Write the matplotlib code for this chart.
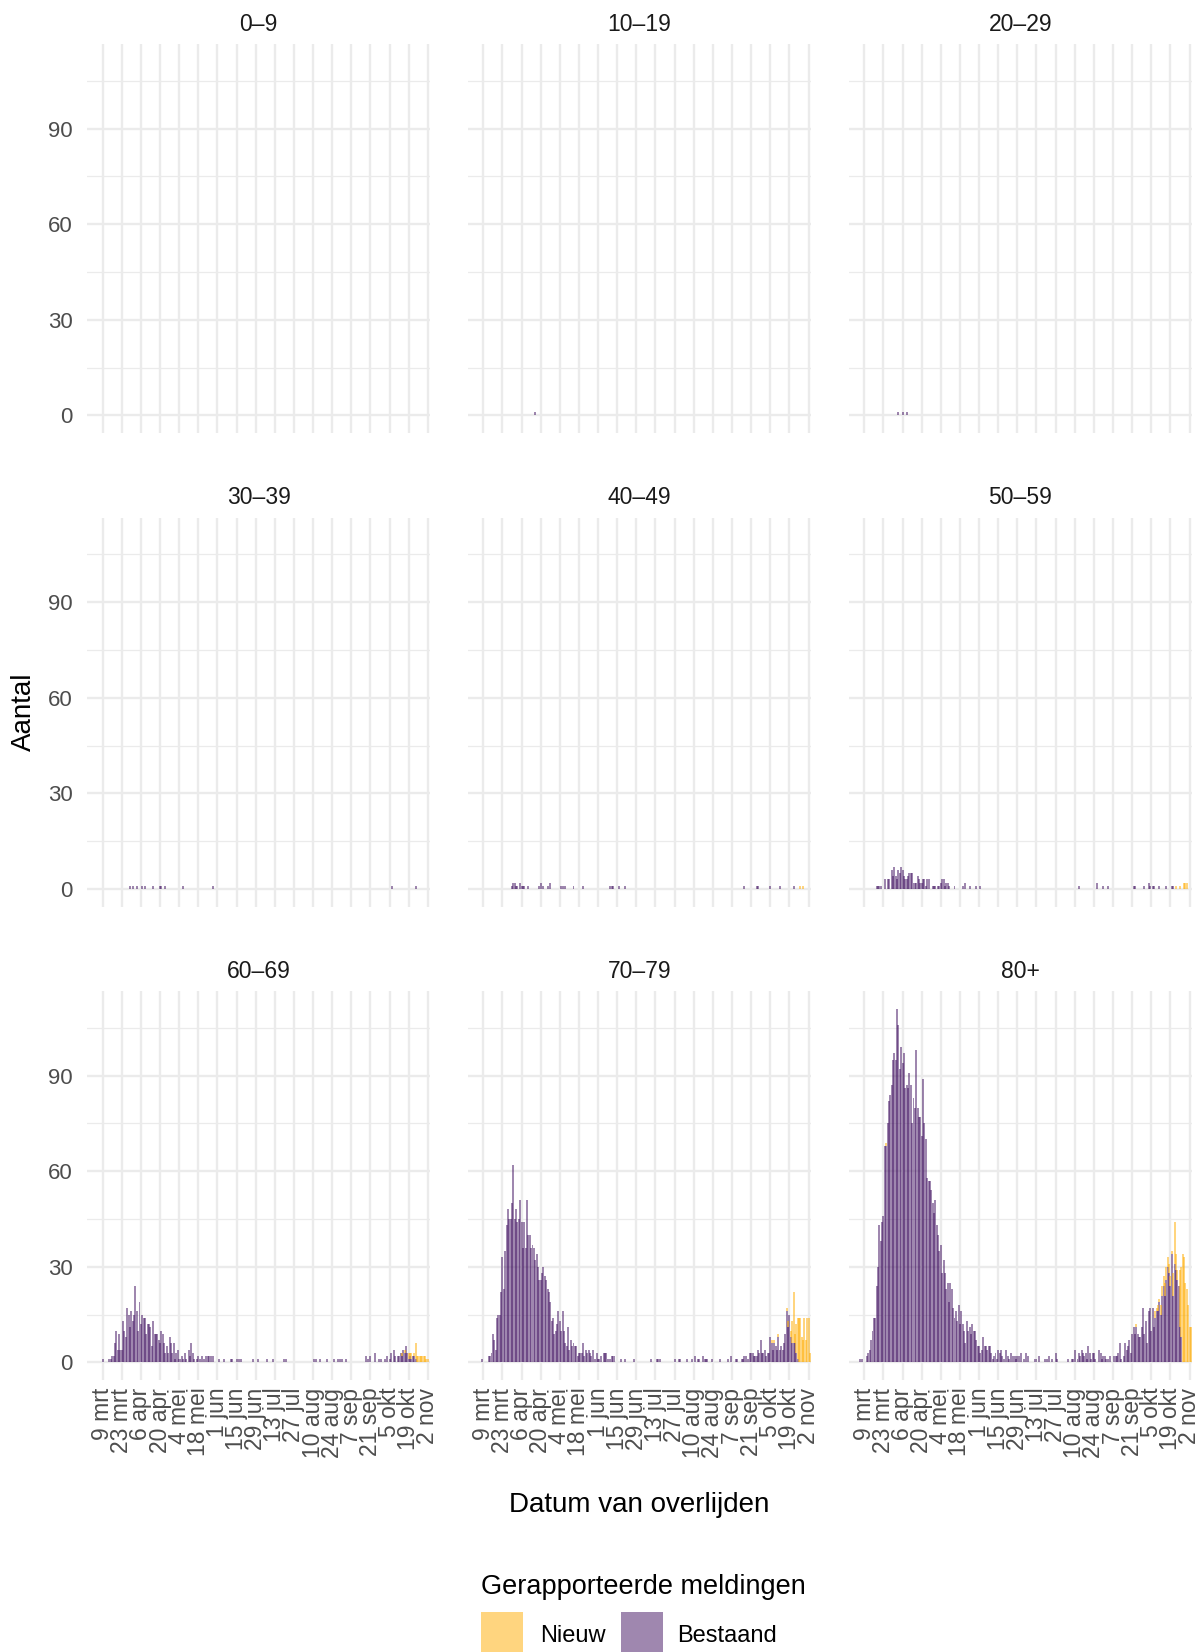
import numpy as np
import pandas as pd
import matplotlib
matplotlib.use("Agg")
import matplotlib.pyplot as plt
import matplotlib.dates as mdates
from matplotlib.patches import Rectangle

plt.rcParams['font.family'] = ['Liberation Sans', 'DejaVu Sans']

# dagen waarop overlijdens zijn gemeld (6 mrt t/m 3 nov 2020)
dagen = pd.date_range("2020-03-06", "2020-11-03", freq="D")

leeftijden = ["0\u20139", "10\u201319", "20\u201329", "30\u201339", "40\u201349",
              "50\u201359", "60\u201369", "70\u201379", "80+"]

tick_datums = ["2020-03-09", "2020-03-23", "2020-04-06", "2020-04-20", "2020-05-04",
               "2020-05-18", "2020-06-01", "2020-06-15", "2020-06-29", "2020-07-13",
               "2020-07-27", "2020-08-10", "2020-08-24", "2020-09-07", "2020-09-21",
               "2020-10-05", "2020-10-19", "2020-11-02"]
tick_labels = ["9 mrt", "23 mrt", "6 apr", "20 apr", "4 mei", "18 mei", "1 jun",
               "15 jun", "29 jun", "13 jul", "27 jul", "10 aug", "24 aug", "7 sep",
               "21 sep", "5 okt", "19 okt", "2 nov"]

# Bestaand: dagwaarden vanaf 6 mrt (eerste 3), daarna per week vanaf maandag 9 mrt
bestaand_80 = [1, 1, 0,
    0, 0, 2, 3, 4, 7, 10,
    14, 14, 24, 30, 43, 38, 44,
    46, 68, 68, 75, 82, 84, 87,
    95, 97, 95, 111, 106, 92, 99,
    94, 97, 86, 87, 86, 91, 87,
    75, 83, 80, 98, 80, 77, 77,
    71, 89, 75, 70, 58, 57, 57,
    54, 50, 47, 51, 43, 40, 35,
    37, 28, 32, 28, 23, 25, 19,
    25, 23, 17, 14, 16, 13, 18,
    12, 16, 12, 10, 6, 13, 10,
    11, 9, 12, 10, 10, 7, 5,
    5, 3, 4, 8, 5, 5, 4,
    5, 5, 3, 1, 2, 3, 1,
    4, 3, 4, 2, 1, 0, 4,
    2, 1, 3, 0, 2, 2, 1,
    2, 2, 0, 3, 0, 1, 3,
    0, 2, 0, 0, 0, 0, 1,
    1, 0, 2, 0, 0, 0, 1,
    0, 1, 2, 0, 1, 0, 0,
    3, 1, 0, 0, 0, 0, 0,
    0, 0, 1, 0, 0, 1, 1,
    4, 0, 1, 3, 2, 4, 3,
    2, 3, 1, 5, 3, 1, 3,
    3, 1, 0, 0, 4, 3, 1,
    2, 2, 1, 1, 0, 2, 0,
    0, 2, 2, 2, 3, 6, 1,
    0, 2, 6, 4, 5, 7, 3,
    9, 11, 9, 11, 9, 8, 8,
    11, 17, 9, 13, 6, 16, 17,
    10, 17, 11, 14, 16, 16, 19,
    15, 21, 24, 21, 26, 30, 28,
    24, 34, 21, 31, 29, 26, 24,
    11, 8, 0, 0, 0, 0, 0,
    0, 0]

bestaand_70 = [0, 0, 1,
    0, 0, 0, 0, 2, 2, 3,
    9, 7, 4, 14, 15, 15, 22,
    33, 23, 35, 43, 48, 45, 45,
    50, 62, 45, 48, 44, 45, 51,
    44, 36, 44, 36, 51, 40, 40,
    36, 37, 36, 32, 34, 30, 26,
    26, 28, 30, 27, 26, 23, 22,
    19, 13, 14, 9, 10, 12, 16,
    13, 10, 16, 10, 6, 5, 11,
    4, 7, 5, 6, 5, 5, 2,
    3, 3, 3, 6, 2, 4, 3,
    4, 3, 2, 4, 0, 1, 3,
    1, 1, 2, 0, 3, 3, 3,
    1, 0, 1, 2, 2, 2, 0,
    0, 0, 0, 1, 0, 0, 1,
    0, 0, 0, 0, 0, 1, 0,
    0, 0, 0, 0, 0, 0, 0,
    0, 0, 0, 0, 1, 0, 0,
    0, 1, 1, 1, 0, 0, 0,
    0, 0, 0, 0, 0, 0, 0,
    1, 0, 0, 1, 1, 0, 0,
    0, 0, 1, 0, 0, 0, 1,
    0, 2, 0, 1, 1, 0, 0,
    2, 1, 1, 1, 0, 0, 1,
    0, 0, 0, 0, 0, 1, 0,
    0, 0, 0, 0, 1, 0, 2,
    0, 0, 0, 1, 1, 0, 0,
    1, 1, 2, 2, 0, 1, 3,
    3, 3, 2, 2, 2, 4, 3,
    7, 3, 3, 4, 2, 3, 3,
    8, 6, 4, 6, 5, 4, 8,
    4, 5, 4, 6, 9, 16, 11,
    15, 8, 6, 6, 6, 3, 1,
    0, 0, 0, 0, 0, 0, 0,
    0, 0]

bestaand_60 = [0, 0, 0,
    1, 0, 0, 0, 0, 1, 1,
    2, 2, 6, 10, 4, 9, 4,
    4, 13, 10, 8, 17, 15, 11,
    16, 13, 15, 24, 16, 10, 19,
    12, 15, 14, 14, 9, 12, 12,
    11, 5, 13, 9, 9, 9, 7,
    6, 10, 9, 6, 3, 5, 3,
    8, 6, 3, 6, 1, 3, 4,
    1, 1, 2, 1, 3, 1, 0,
    4, 2, 6, 3, 1, 0, 1,
    2, 1, 0, 2, 1, 0, 2,
    2, 2, 2, 0, 2, 0, 0,
    0, 1, 0, 0, 0, 1, 0,
    0, 0, 0, 1, 1, 0, 0,
    1, 0, 1, 1, 0, 0, 0,
    0, 0, 0, 0, 0, 1, 0,
    0, 0, 1, 0, 0, 0, 0,
    0, 1, 0, 0, 0, 0, 1,
    0, 0, 0, 0, 0, 0, 0,
    1, 1, 0, 0, 0, 0, 0,
    0, 0, 0, 0, 0, 0, 0,
    0, 0, 0, 0, 0, 0, 0,
    0, 1, 1, 0, 0, 1, 0,
    0, 0, 0, 1, 0, 0, 0,
    0, 1, 0, 0, 1, 0, 1,
    1, 0, 0, 1, 0, 0, 0,
    0, 0, 0, 0, 0, 0, 0,
    0, 0, 0, 0, 2, 1, 0,
    2, 0, 0, 3, 0, 0, 1,
    0, 1, 0, 0, 1, 2, 0,
    1, 3, 0, 4, 2, 0, 2,
    2, 3, 2, 4, 3, 5, 3,
    1, 2, 1, 2, 2, 1, 0,
    0, 0, 0, 0, 0, 0, 0,
    0, 0]

# kleinere groepen: alleen dagen met meldingen
bestaand_50 = {"2020-03-18": 1, "2020-03-19": 1, "2020-03-20": 1, "2020-03-21": 1,
    "2020-03-24": 3, "2020-03-26": 3, "2020-03-27": 3, "2020-03-29": 6, "2020-03-30": 4,
    "2020-03-31": 7, "2020-04-01": 4, "2020-04-02": 3, "2020-04-03": 6, "2020-04-04": 5,
    "2020-04-05": 7, "2020-04-06": 6, "2020-04-07": 4, "2020-04-08": 3, "2020-04-09": 3,
    "2020-04-10": 4, "2020-04-11": 5, "2020-04-12": 5, "2020-04-13": 5, "2020-04-14": 2,
    "2020-04-15": 2, "2020-04-16": 2, "2020-04-17": 4, "2020-04-18": 3, "2020-04-19": 2,
    "2020-04-20": 2, "2020-04-21": 3, "2020-04-22": 3, "2020-04-23": 1, "2020-04-24": 3,
    "2020-04-25": 3, "2020-04-28": 1, "2020-04-29": 1, "2020-04-30": 1, "2020-05-02": 1,
    "2020-05-03": 1, "2020-05-04": 2, "2020-05-05": 3, "2020-05-06": 3, "2020-05-07": 1,
    "2020-05-08": 2, "2020-05-09": 2, "2020-05-10": 1, "2020-05-14": 1, "2020-05-20": 1,
    "2020-05-22": 2, "2020-05-25": 1, "2020-05-30": 1, "2020-06-02": 1, "2020-08-13": 1,
    "2020-08-26": 2, "2020-08-31": 1, "2020-09-03": 1, "2020-09-22": 1, "2020-09-23": 1,
    "2020-09-30": 1, "2020-10-03": 2, "2020-10-04": 1, "2020-10-06": 1, "2020-10-07": 1,
    "2020-10-11": 1, "2020-10-16": 1, "2020-10-20": 1, "2020-10-21": 1}
bestaand_40 = {"2020-03-30": 1, "2020-03-31": 2, "2020-04-01": 2, "2020-04-02": 1,
    "2020-04-03": 1, "2020-04-05": 2, "2020-04-06": 1, "2020-04-07": 1, "2020-04-08": 1,
    "2020-04-11": 1, "2020-04-19": 1, "2020-04-20": 2, "2020-04-22": 1, "2020-04-25": 1,
    "2020-04-27": 2, "2020-05-05": 1, "2020-05-06": 1, "2020-05-08": 1, "2020-05-14": 1,
    "2020-05-21": 1, "2020-06-10": 1, "2020-06-11": 1, "2020-06-12": 1, "2020-06-16": 1,
    "2020-06-21": 1, "2020-09-16": 1, "2020-09-25": 1, "2020-09-26": 1, "2020-10-05": 1,
    "2020-10-12": 1, "2020-10-22": 1}
bestaand_30 = {"2020-03-29": 1, "2020-03-31": 1, "2020-04-03": 1, "2020-04-07": 1,
    "2020-04-09": 1, "2020-04-15": 1, "2020-04-20": 1, "2020-04-21": 1, "2020-04-24": 1,
    "2020-05-07": 1, "2020-05-29": 1, "2020-10-07": 1, "2020-10-24": 1}
bestaand_20 = {"2020-04-03": 1, "2020-04-06": 1, "2020-04-09": 1}
bestaand_10 = {"2020-04-16": 1}
bestaand_0 = {}

# Nieuw: meldingen die in dit rapport zijn toegevoegd
nieuw_80 = {"2020-03-25": 1, "2020-09-24": 1, "2020-10-08": 2, "2020-10-09": 1,
    "2020-10-10": 2, "2020-10-11": 1, "2020-10-12": 3, "2020-10-13": 3, "2020-10-14": 3,
    "2020-10-15": 4, "2020-10-16": 4, "2020-10-17": 3, "2020-10-18": 3, "2020-10-19": 3,
    "2020-10-20": 1, "2020-10-21": 7, "2020-10-22": 13, "2020-10-23": 5, "2020-10-24": 3,
    "2020-10-26": 18, "2020-10-27": 22, "2020-10-28": 34, "2020-10-29": 33,
    "2020-10-30": 25, "2020-10-31": 23, "2020-11-01": 18, "2020-11-02": 11,
    "2020-11-03": 11}
nieuw_70 = {"2020-10-06": 1, "2020-10-08": 1, "2020-10-11": 1, "2020-10-17": 1,
    "2020-10-18": 2, "2020-10-20": 2, "2020-10-21": 7, "2020-10-22": 16, "2020-10-23": 3,
    "2020-10-24": 9, "2020-10-25": 13, "2020-10-26": 14, "2020-10-27": 14, "2020-10-28": 8,
    "2020-10-29": 7, "2020-10-30": 14, "2020-10-31": 7, "2020-11-01": 14, "2020-11-02": 14,
    "2020-11-03": 3}
nieuw_60 = {"2020-10-14": 1, "2020-10-16": 1, "2020-10-19": 2, "2020-10-20": 1,
    "2020-10-21": 2, "2020-10-23": 1, "2020-10-24": 5, "2020-10-25": 2, "2020-10-26": 2,
    "2020-10-27": 2, "2020-10-28": 2, "2020-10-29": 2, "2020-10-30": 2, "2020-10-31": 2,
    "2020-11-01": 1, "2020-11-02": 1}
nieuw_50 = {"2020-10-23": 1, "2020-10-26": 1, "2020-10-29": 2, "2020-10-30": 2,
    "2020-10-31": 2}
nieuw_40 = {"2020-10-27": 1, "2020-10-29": 1}
nieuw_30 = {}
nieuw_20 = {}
nieuw_10 = {}
nieuw_0 = {}


def naar_reeks(telling):
    # lijst of dict -> array met een waarde per dag
    if isinstance(telling, dict):
        reeks = pd.Series(0, index=dagen)
        for datum, aantal in telling.items():
            reeks[pd.Timestamp(datum)] = aantal
        return reeks.values
    return np.array(telling)


bestaand = [bestaand_0, bestaand_10, bestaand_20, bestaand_30, bestaand_40,
            bestaand_50, bestaand_60, bestaand_70, bestaand_80]
nieuw = [nieuw_0, nieuw_10, nieuw_20, nieuw_30, nieuw_40,
         nieuw_50, nieuw_60, nieuw_70, nieuw_80]

paars = "#411161"
geel = "#FFAD00"
alfa = 0.5
grid_kleur = "#EBEBEB"
balk = 1.45  # breder dan een dag: buren overlappen en worden donkerder

W, H = 1204, 1652
fig = plt.figure(figsize=(W / 100, H / 100), dpi=100)

links = [87.3, 468.0, 849.0]
boven = [44.1, 517.6, 991.1]
breed, hoog = 342.6, 389.0

start = pd.Timestamp("2020-03-09")
x_min = mdates.date2num(start) - 11.2
x_max = mdates.date2num(start) + 239.5
tick_pos = mdates.date2num(pd.to_datetime(tick_datums))

for i, label in enumerate(leeftijden):
    rij, kol = divmod(i, 3)
    ax = fig.add_axes([links[kol] / W, 1 - (boven[rij] + hoog) / H, breed / W, hoog / H])

    b = naar_reeks(bestaand[i])
    n = naar_reeks(nieuw[i])
    ax.bar(dagen, b, width=balk, color=paars, alpha=alfa, linewidth=0)
    ax.bar(dagen, n, bottom=b, width=balk, color=geel, alpha=alfa, linewidth=0)

    ax.set_xlim(x_min, x_max)
    ax.set_ylim(-5.55, 116.55)
    ax.set_yticks([0, 30, 60, 90])
    ax.set_yticks([15, 45, 75, 105], minor=True)
    ax.set_xticks(tick_pos)
    ax.grid(which="major", color=grid_kleur, linewidth=1.7)
    ax.grid(which="minor", axis="y", color=grid_kleur, linewidth=0.9)
    ax.set_axisbelow(True)
    for s in ax.spines.values():
        s.set_visible(False)
    ax.tick_params(which="both", length=0)
    ax.tick_params(axis="y", pad=10.5, labelsize=16, labelcolor="#4D4D4D")
    ax.tick_params(axis="x", pad=5.5, labelsize=16.5, labelcolor="#4D4D4D")

    if kol == 0:
        ax.set_yticklabels(["0", "30", "60", "90"])
    else:
        ax.set_yticklabels([])
    if rij == 2:
        ax.set_xticklabels(tick_labels, rotation=90, ha="center", va="top")
    else:
        ax.set_xticklabels([])

    fig.text((links[kol] + breed / 2) / W, 1 - (boven[rij] - 13.4) / H, label,
             ha="center", va="baseline", fontsize=16.5, color="#1A1A1A")

fig.text(639.4 / W, 1 - 1512 / H, "Datum van overlijden", ha="center",
         va="baseline", fontsize=20)
fig.text(24 / W, 1 - 712 / H, "Aantal", ha="center", va="center",
         rotation=90, fontsize=20)

# legenda onderaan
fig.text(480.7 / W, 1 - 1594.3 / H, "Gerapporteerde meldingen", ha="left",
         va="baseline", fontsize=19.5)
for x0, kleur, tekst, tx in [(481, geel, "Nieuw", 540), (621, paars, "Bestaand", 677.3)]:
    fig.add_artist(Rectangle((x0 / W, 1 - 1653.7 / H), 42.3 / W, 42 / H,
                             transform=fig.transFigure, facecolor=kleur,
                             alpha=alfa, linewidth=0))
    fig.text(tx / W, 1 - 1641.7 / H, tekst, ha="left", va="baseline", fontsize=17)

fig.savefig("out.png", dpi=100)
